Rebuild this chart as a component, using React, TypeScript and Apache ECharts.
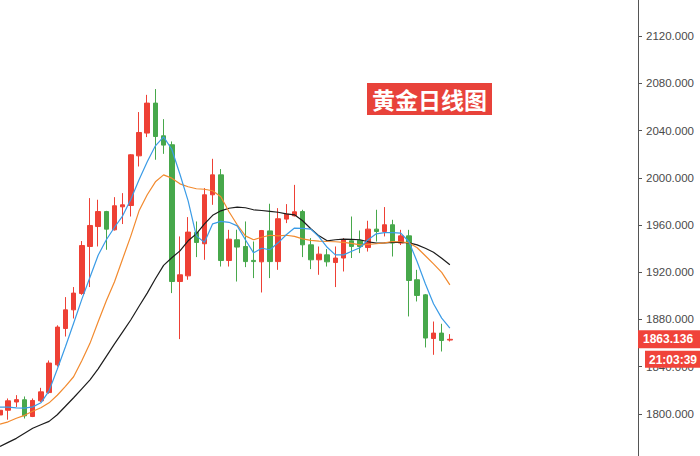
import React, { useEffect, useRef } from 'react';
import * as echarts from 'echarts';

const TITLE = '黄金日线图';
const LAST_PRICE = 1863.136;
const TIME_LEFT = '21:03:39';
const SLOT_COUNT = 79;

const opens = [
  1799, 1803, 1810, 1811.9, 1797.7, 1811, 1818, 1841.5, 1872.3, 1888.1,
  1902, 1941.8, 1958.7, 1971.4, 1955.9, 1975.4, 1976.5, 2018.6, 2037.9, 2063.3,
  2035.6, 2028, 1912.1, 1916.9, 1953.6, 1944.1, 1985.6, 2002.5, 1929.9, 1947.5,
  1941.8, 1930, 1928.8, 1955, 1929, 1965, 1967.8, 1971.4, 1943.2, 1930.5,
  1934.7, 1928.2, 1932, 1946.6, 1946.9, 1940.9, 1956.5, 1954.5, 1960.2, 1944.7,
  1950.8, 1913.6, 1900.8, 1863.8, 1868.4, 1862.5,
];
const closes = [
  1803, 1811, 1812, 1798.3, 1811.3, 1818.6, 1843, 1873.5, 1888.1, 1902.3,
  1942.6, 1959.6, 1971.4, 1956.5, 1976.3, 1977.1, 2019.5, 2038.4, 2063.3, 2035,
  2027.7, 1912.1, 1917.8, 1954, 1945.2, 1985.6, 2002.5, 1929.9, 1948, 1941.3,
  1929, 1929, 1955.3, 1929, 1965.3, 1969.2, 1971.2, 1943.2, 1930.5, 1935.3,
  1928.8, 1932, 1947.5, 1941.8, 1941.8, 1956.5, 1954.5, 1960.2, 1944.7, 1950.8,
  1913, 1900.3, 1864.2, 1868.4, 1862.1, 1863.136,
];
const lows = [
  1797, 1795, 1805.7, 1796, 1797.2, 1810, 1817, 1840, 1865.5, 1880.8,
  1900.8, 1907.4, 1941.8, 1939, 1955.3, 1960.8, 1967.2, 2009.6, 2034.5, 2015.3,
  2020.3, 1902.3, 1863.3, 1913.6, 1932.8, 1930.5, 1977.1, 1924.8, 1924.8, 1912.1,
  1924.3, 1915, 1902.8, 1915, 1922, 1961.6, 1967.2, 1932.8, 1922.6, 1917.8,
  1924.8, 1907.4, 1920.6, 1932, 1936.2, 1937.5, 1946, 1950.3, 1933.3, 1943,
  1882.5, 1895.2, 1856.2, 1850, 1852.8, 1861.3,
];
const highs = [
  1805, 1813, 1815.8, 1814.7, 1813, 1822, 1845.2, 1875, 1898.9, 1907.4,
  1946.4, 1982.8, 1981.4, 1972, 1983.6, 1987, 2020, 2055.7, 2070.3, 2075.2,
  2049.7, 2030.8, 1950.3, 1966.7, 1963, 1991.3, 2016.1, 2007.4, 1955.9, 1956,
  1963, 1946, 1955.8, 1978, 1974.3, 1977.7, 1994, 1972.9, 1948.9, 1941.8,
  1939.6, 1941.8, 1948.9, 1967.2, 1955.3, 1963.6, 1972.9, 1975.2, 1964.4, 1955.9,
  1955.9, 1922, 1901.5, 1878.2, 1876.3, 1867.5,
];

const ma5 = [
  1805.7, 1805.7, 1805.1, 1804.8, 1805.9, 1809.3, 1819.5, 1837.7, 1856.8, 1876.7,
  1897, 1915.7, 1934.3, 1947.5, 1958.1, 1967.8, 1981.8, 1998.3, 2013.6, 2027.1,
  2034.7, 2024.2, 2003, 1980.5, 1950.8, 1945.3, 1961, 1963.1, 1962.3, 1959.3,
  1947.5, 1936.4, 1940.3, 1939, 1944.9, 1951.7, 1957.4, 1957.2, 1956.5, 1950,
  1941.1, 1934.7, 1934.7, 1937.7, 1940.7, 1947.5, 1952.5, 1953.6, 1953.6, 1953.1,
  1945.8, 1928.8, 1910.2, 1893.2, 1881.1, 1872.6,
];
const ma10 = [
  1791.3, 1793.2, 1796.2, 1798.7, 1802.1, 1805.1, 1809.3, 1815.7, 1823.3, 1831.4,
  1844.9, 1859.7, 1878, 1895.8, 1911.9, 1931.4, 1950.8, 1972, 1985.6, 1996.6,
  2002.5, 1999.7, 1994.9, 1992.4, 1990.7, 1990.3, 1989, 1983.9, 1971.2, 1960.2,
  1950.8, 1947.5, 1949.6, 1951.3, 1950.8, 1951.3, 1950.4, 1948.3, 1947, 1946.4,
  1946, 1945.8, 1945.3, 1944.5, 1943.2, 1943.6, 1944.1, 1944.9, 1946, 1945.8,
  1944.9, 1940.7, 1933.9, 1927.1, 1919.9, 1909.3,
];
const ma20 = [
  1772.3, 1775.8, 1779.2, 1783.5, 1787.7, 1790.7, 1793.6, 1799.2, 1806.4, 1813.6,
  1821.2, 1828.8, 1838.1, 1848.7, 1859.3, 1869.5, 1879.7, 1891.1, 1902.3, 1914.4,
  1925.8, 1932.2, 1938.1, 1946.6, 1952.5, 1961, 1968.2, 1972, 1974.2, 1975.2,
  1974.6, 1972.9, 1972.3, 1971.6, 1970.8, 1969.5, 1968.6, 1963.6, 1956.8, 1950.8,
  1946.6, 1947.5, 1948.1, 1947.9, 1947.5, 1945.8, 1944.7, 1944.9, 1945.2, 1945.3,
  1944.9, 1943.2, 1940.3, 1936.9, 1931.8, 1926.3,
];

const RED = '#ee4035';
const GREEN = '#47a84b';
const FONT = '"Liberation Sans", Arial, sans-serif';

export default function App() {
  const ref = useRef<HTMLDivElement>(null);
  useEffect(() => {
    if (!ref.current) return;
    const chart = echarts.init(ref.current, undefined, { renderer: 'svg' });
    const categories = Array.from({ length: SLOT_COUNT }, (_, i) => String(i + 1));
    const pad = (arr: any[]) => arr.concat(Array(SLOT_COUNT - arr.length).fill('-'));
    const kData = opens.map((o, i) => [o, closes[i], lows[i], highs[i]]);
    chart.setOption({
      animation: false,
      backgroundColor: '#ffffff',
      title: {
        text: TITLE,
        left: 367,
        top: 83,
        backgroundColor: '#e8423a',
        padding: [4, 5],
        textStyle: {
          color: '#ffffff',
          fontSize: 23,
          lineHeight: 24,
          fontWeight: 'bold',
          fontFamily: '"Noto Sans CJK SC", sans-serif',
        },
      },
      grid: { left: 0, right: 62, top: -11, bottom: -5, outerBoundsMode: 'none', containLabel: false },
      xAxis: {
        type: 'category',
        data: categories,
        boundaryGap: false,
        show: false,
      },
      yAxis: {
        type: 'value',
        position: 'right',
        min: 1760,
        max: 2160,
        interval: 40,
        splitLine: { show: false },
        axisLine: { show: true, lineStyle: { color: '#555', width: 1 } },
        axisTick: { show: true, length: 4, lineStyle: { color: '#555' } },
        axisLabel: {
          margin: 8,
          color: '#4a4a4a',
          fontSize: 11.5,
          fontFamily: FONT,
          showMinLabel: false,
          showMaxLabel: false,
          formatter: (v: number) => v.toFixed(3),
        },
      },
      series: [
        {
          type: 'candlestick',
          data: kData,
          barWidth: 5,
          itemStyle: {
            color: RED,
            color0: GREEN,
            borderColor: RED,
            borderColor0: GREEN,
            borderWidth: 1,
          },
        },
        {
          type: 'line',
          data: pad(ma20),
          symbol: 'none',
          showSymbol: false,
          lineStyle: { color: '#1c1c1c', width: 1.2 },
          z: 3,
          clip: false,
          markLine: {
            silent: true,
            symbol: ['none', 'none'],
            lineStyle: { color: 'rgba(0,0,0,0)', width: 0, type: 'solid' },
            data: [
              {
                yAxis: LAST_PRICE,
                label: {
                  show: true,
                  position: 'end',
                  distance: 0,
                  formatter: LAST_PRICE.toFixed(3),
                  backgroundColor: '#f0433a',
                  color: '#ffffff',
                  opacity: 1,
                  fontWeight: 'bold',
                  fontSize: 12,
                  fontFamily: FONT,
                  lineHeight: 13,
                  width: 52,
                  padding: [3, 5, 2, 5],
                },
              },
              {
                yAxis: LAST_PRICE,
                label: {
                  show: true,
                  position: 'end',
                  distance: 0,
                  opacity: 1,
                  formatter: '{b|' + TIME_LEFT + '}',
                  padding: [40, 0, 0, 7],
                  rich: {
                    b: {
                      backgroundColor: '#f0433a',
                      color: '#ffffff',
                      fontWeight: 'bold',
                      fontSize: 12,
                      fontFamily: FONT,
                      lineHeight: 13,
                      width: 47,
                      padding: [3, 4, 2, 4],
                    },
                  },
                },
              },
            ],
          },
        },
        {
          type: 'line',
          data: pad(ma10),
          symbol: 'none',
          showSymbol: false,
          lineStyle: { color: '#f28a2e', width: 1.2 },
          z: 3,
        },
        {
          type: 'line',
          data: pad(ma5),
          symbol: 'none',
          showSymbol: false,
          lineStyle: { color: '#3a9be6', width: 1.2 },
          z: 3,
        },
      ],
    });
    return () => chart.dispose();
  }, []);
  return (
    <div
      ref={ref}
      style={{ position: 'absolute', left: 0, top: 0, width: 700, height: 456 }}
    />
  );
}
